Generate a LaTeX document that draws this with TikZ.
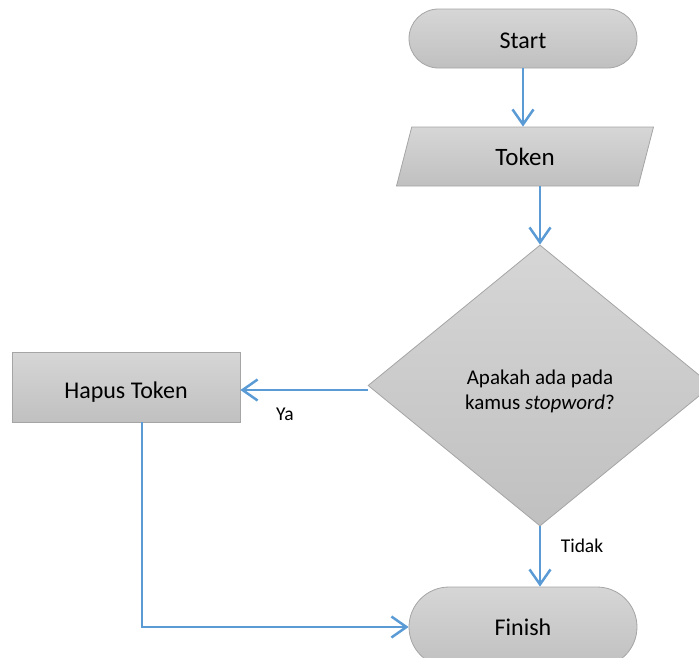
\documentclass[tikz,border=0pt]{standalone}
\usepackage{fontspec}
\setmainfont{Carlito}
\usetikzlibrary{shapes.misc,shapes.geometric,arrows.meta}
\definecolor{fillTop}{RGB}{214,214,214}
\definecolor{fillBot}{RGB}{192,192,192}
\definecolor{edgeGray}{RGB}{165,165,165}
\definecolor{arrBlue}{RGB}{91,155,213}
\newcommand\lowtxt[2]{\raisebox{-#1}[\height][\depth]{#2}}
\tikzset{
  box/.style={draw=edgeGray, line width=0.8pt, top color=fillTop, bottom color=fillBot, inner sep=0pt},
  term/.style={box, rounded rectangle, minimum width=228pt, font=\fontsize{24}{29}\selectfont},
  arr/.style={draw=arrBlue, line width=2.5pt, -{Straight Barb[length=15pt,width=21pt,line width=2.5pt]}},
  lbl/.style={font=\fontsize{19.5}{24}\selectfont, inner sep=0pt}
}
\begin{document}
\begin{tikzpicture}[x=1pt,y=-1pt]
\useasboundingbox (0,0) rectangle (699,657);
\node[term, minimum height=59pt] (start) at (523,38.5) {\lowtxt{2.5pt}{Start}};
\node[box, trapezium, trapezium left angle=49, trapezium right angle=131,
      trapezium stretches body, minimum width=257pt, minimum height=59pt,
      font=\fontsize{25}{30}\selectfont] (token) at (525,156.5) {Token};
\node[box, diamond, minimum width=344pt, minimum height=281pt] (dec) at (540,385.5) {};
\node[align=center, inner sep=0pt, font=\fontsize{21}{25}\selectfont] (q) at (540,391)
      {Apakah ada pada\\kamus \textit{stopword}?};
\node[box, rectangle, minimum width=228pt, minimum height=70pt,
      font=\fontsize{24}{29}\selectfont] (hapus) at (126,387) {\lowtxt{5.5pt}{Hapus Token}};
\node[term, minimum height=80pt] (finish) at (523,627) {Finish};
\draw[arr] (start.south) -- (start.south |- token.north);
\draw[arr] (token.south -| dec.north) -- (dec.north);
\draw[arr] ([yshift=-4.5pt]dec.west) -- ([yshift=-4.5pt]dec.west -| hapus.east);
\draw[arr] ([xshift=16pt]hapus.south) |- (finish.west);
\draw[arr] (dec.south) -- (dec.south |- finish.north);
\node[lbl] (ya) at (285,414) {Ya};
\node[lbl] (tidak) at (582,546) {Tidak};
\end{tikzpicture}
\end{document}
